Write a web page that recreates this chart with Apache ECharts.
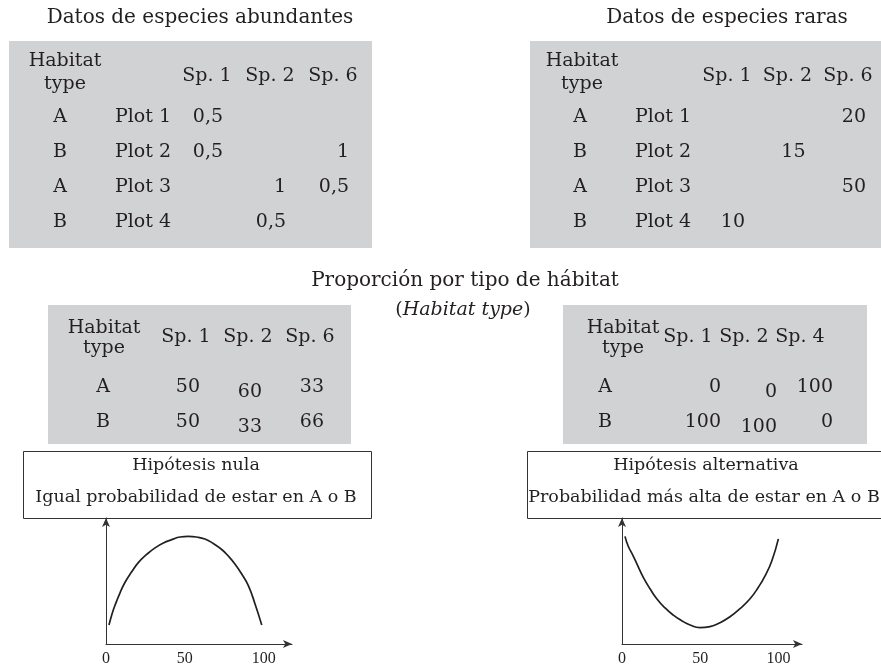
<!DOCTYPE html>
<html>
<head>
<meta charset="utf-8">
<script src="https://cdn.jsdelivr.net/npm/echarts@6/dist/echarts.min.js"></script>
<style>
  html, body { margin: 0; padding: 0; background: #fff; }
  #main { width: 881px; height: 667px; }
</style>
</head>
<body>
<div id="main"></div>
<script>
// tablas de datos
const abundHeaders = ['Sp. 1', 'Sp. 2', 'Sp. 6'];
const rareHeaders = ['Sp. 1', 'Sp. 2', 'Sp. 6'];
const plotHabitat = ['A', 'B', 'A', 'B'];
const plotNames = ['Plot 1', 'Plot 2', 'Plot 3', 'Plot 4'];
const abundValues = [[0.5, null, null], [0.5, null, 1], [null, 1, 0.5], [null, 0.5, null]];
const rareValues = [[null, null, 20], [null, 15, null], [null, null, 50], [10, null, null]];

// proporcion por tipo de habitat
const habitatTypes = ['A', 'B'];
const nullHeaders = ['Sp. 1', 'Sp. 2', 'Sp. 6'];
const nullProp = [[50, 60, 33], [50, 33, 66]];
const altHeaders = ['Sp. 1', 'Sp. 2', 'Sp. 4'];
const altProp = [[0, 0, 100], [100, 100, 0]];

// curvas de las hipotesis
const curveTicks = [0, 50, 100];
const nullX = [1.9, 3.6, 5.7, 8.9, 12.1, 16.3, 20.5, 25.8, 31.1, 36.4, 41.7, 47, 52.2,
               57.5, 62.8, 68.1, 73.4, 77.6, 81.9, 86.1, 90.3, 94.5, 98.8];
const nullY = [15.1, 22.9, 30.7, 40.6, 49, 57.3, 64.6, 71.1, 76.3, 80.2, 82.8, 84.9, 85.4,
               84.9, 83.3, 79.7, 75, 69.8, 63.3, 55.5, 46.3, 32, 15.1];
const altX = [1.9, 4, 7.2, 10.4, 13.6, 17.9, 22.2, 27.5, 32.8, 38.1, 43.5, 49.8, 56.2,
              62.6, 69, 75.4, 81.8, 87.1, 91.4, 95.7, 99.9];
const altY = [85.4, 77.6, 69.8, 61.2, 52.9, 43.8, 35.9, 28.6, 22.9, 18.5, 15.1, 13, 13.8,
              16.9, 21.6, 28.1, 35.9, 45, 54.1, 65.9, 83.4];

const SERIF = '"DejaVu Serif", serif';
const INK = '#231f20';
const FS = 19;

const grids = [], xAxes = [], yAxes = [], series = [], graphics = [];

const hidden = { axisLine: { show: false }, axisTick: { show: false }, splitLine: { show: false } };

function addTable(t) {
  const gi = grids.length;
  grids.push({ left: t.box[0], top: t.box[1], width: t.box[2], height: t.box[3],
    show: true, backgroundColor: '#d1d2d4', borderWidth: 0 });
  const xi = xAxes.length;
  xAxes.push(Object.assign({
    gridIndex: gi, type: 'value', position: 'top', min: t.x[0], max: t.x[1],
    axisLabel: {
      inside: true, margin: t.headMargin, align: 'center', verticalAlign: 'middle',
      customValues: t.headers.map((h, k) => k),
      formatter: v => t.headers[Math.round(v)],
      color: INK, fontFamily: SERIF, fontSize: FS
    }
  }, hidden));
  const yi = yAxes.length;
  t.rowLabels.forEach(r => {
    yAxes.push(Object.assign({
      gridIndex: gi, type: 'value', inverse: true, position: 'left', min: t.y[0], max: t.y[1],
      axisLabel: {
        inside: true, margin: r.margin, align: r.align, verticalAlign: 'middle',
        customValues: r.labels.map((l, k) => k),
        formatter: v => r.labels[Math.round(v)],
        color: INK, fontFamily: SERIF, fontSize: FS
      }
    }, hidden));
  });
  const data = [];
  t.values.forEach((row, r) => row.forEach((v, c) => {
    if (v === null) return;
    const item = { value: [c, r, v] };
    // en el original la columna central va algo mas baja
    if (t.colDrop && t.colDrop[c]) item.label = { offset: [t.valOffset, t.colDrop[c]] };
    data.push(item);
  }));
  series.push({
    type: 'scatter', xAxisIndex: xi, yAxisIndex: yi, symbolSize: 0, silent: true, data,
    itemStyle: { opacity: 1 },
    label: {
      show: true, position: 'inside', align: 'right', verticalAlign: 'middle', opacity: 1,
      offset: [t.valOffset, 0],
      formatter: p => String(p.value[2]).replace('.', ','),
      color: INK, fontFamily: SERIF, fontSize: FS
    }
  });
  // cabecera "Habitat type"
  graphics.push({ type: 'text', x: t.habHead[0], y: t.habHead[1], silent: true,
    style: { text: 'Habitat\ntype', fill: INK, fontFamily: SERIF, fontSize: FS,
      lineHeight: t.habHead[2], textAlign: 'center', textVerticalAlign: 'middle' } });
}

addTable({ box: [9, 41, 363, 207], x: [-3.143, 2.619], y: [-2.186, 3.729], headMargin: 35,
  headers: abundHeaders, values: abundValues, valOffset: 16, habHead: [65, 73, 23],
  rowLabels: [{ labels: plotHabitat, margin: 51, align: 'center' },
              { labels: plotNames, margin: 106, align: 'left' }] });
addTable({ box: [530, 41, 351, 207], x: [-3.256, 2.545], y: [-2.186, 3.729], headMargin: 35,
  headers: rareHeaders, values: rareValues, valOffset: 18, habHead: [582, 73, 23],
  rowLabels: [{ labels: plotHabitat, margin: 50, align: 'center' },
              { labels: plotNames, margin: 105, align: 'left' }] });
addTable({ box: [48, 305, 303, 139], x: [-2.226, 2.661], y: [-2.343, 1.629], headMargin: 32,
  headers: nullHeaders, values: nullProp, valOffset: 14, habHead: [104, 338, 20], colDrop: [0, 5, 0],
  rowLabels: [{ labels: habitatTypes, margin: 55, align: 'center' }] });
addTable({ box: [563, 305, 304, 139], x: [-2.232, 3.196], y: [-2.343, 1.629], headMargin: 32,
  headers: altHeaders, values: altProp, valOffset: 33, habHead: [623, 338, 20], colDrop: [0, 5, 0],
  rowLabels: [{ labels: habitatTypes, margin: 42, align: 'center' }] });

function addCurve(box, xMax, xs, ys) {
  const gi = grids.length;
  grids.push({ left: box[0], top: box[1], width: box[2], height: box[3] });
  const axisLine = { show: true, symbol: ['none', 'arrow'], symbolSize: [6, 9],
    lineStyle: { color: '#333', width: 1 } };
  const xi = xAxes.length;
  xAxes.push({ gridIndex: gi, type: 'value', min: 0, max: xMax, interval: curveTicks[1] - curveTicks[0],
    axisLine, axisTick: { show: false }, splitLine: { show: false },
    axisLabel: { margin: 7, showMaxLabel: false, color: INK, fontFamily: '"Liberation Serif", serif', fontSize: 16,
      formatter: v => (curveTicks.indexOf(v) >= 0 ? String(v) : '') } });
  const yi = yAxes.length;
  yAxes.push({ gridIndex: gi, type: 'value', min: 0, max: 100,
    axisLine, axisTick: { show: false }, splitLine: { show: false }, axisLabel: { show: false } });
  series.push({ type: 'line', xAxisIndex: xi, yAxisIndex: yi, smooth: 0.5, showSymbol: false, silent: true,
    data: xs.map((x, i) => [x, ys[i]]),
    lineStyle: { color: INK, width: 1.7 } });
}

addCurve([106, 518, 186, 128], 118, nullX, nullY);
addCurve([622, 518, 180, 128], 115, altX, altY);

function text(str, x, y, extra) {
  graphics.push({ type: 'text', x, y, silent: true,
    style: Object.assign({ text: str, fill: INK, fontFamily: SERIF, fontSize: 20,
      textAlign: 'center', textVerticalAlign: 'middle' }, extra || {}) });
}

// titulos
text('Datos de especies abundantes', 200, 18);
text('Datos de especies raras', 727, 18);
text('Proporción por tipo de hábitat', 465, 281);
text('({i|Habitat type})', 463, 310, { fontSize: 19,
  rich: { i: { fontStyle: 'italic', fontFamily: SERIF, fontSize: 19, fill: INK } } });

// cuadros de hipotesis
graphics.push({ type: 'rect', silent: true, shape: { x: 23.5, y: 451.5, width: 348, height: 67 },
  style: { fill: '#fff', stroke: '#333', lineWidth: 1 } });
graphics.push({ type: 'rect', silent: true, shape: { x: 527.5, y: 451.5, width: 370, height: 67 },
  style: { fill: '#fff', stroke: '#333', lineWidth: 1 } });
text('Hipótesis nula', 196, 465, { fontSize: 17.5 });
text('Igual probabilidad de estar en A o B', 196, 497, { fontSize: 17.5 });
text('Hipótesis alternativa', 706, 465, { fontSize: 17.5 });
text('Probabilidad más alta de estar en A o B', 704, 497, { fontSize: 17.5 });

const chart = echarts.init(document.getElementById('main'));
chart.setOption({
  backgroundColor: '#fff',
  animation: false,
  grid: grids,
  xAxis: xAxes,
  yAxis: yAxes,
  series: series,
  graphic: graphics
});
</script>
</body>
</html>
